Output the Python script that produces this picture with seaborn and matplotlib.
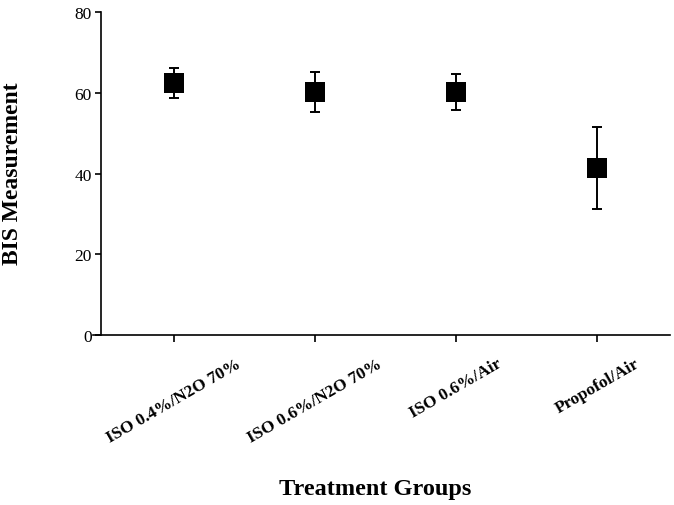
import numpy as np
import seaborn as sns
import matplotlib.pyplot as plt

# Values (mean +/- error)
groups = ["ISO 0.4%/N2O 70%", "ISO 0.6%/N2O 70%", "ISO 0.6%/Air", "Propofol/Air"]
bis_mean = [62.5, 60.2, 60.2, 41.4]
bis_err = [3.7, 5.0, 4.4, 10.1]
y_ticks = [0, 20, 40, 60, 80]

sns.set_theme(style="ticks")
plt.rcParams["font.family"] = ["Liberation Serif", "DejaVu Serif"]
plt.rcParams["text.color"] = "black"
plt.rcParams["axes.labelcolor"] = "black"

fig = plt.figure(figsize=(6.74, 5.06), dpi=100)
ax = fig.add_axes([0.1375, 0.3366, 0.8565, 0.6368])

# error bars first, squares on top
ax.errorbar(groups, bis_mean, yerr=bis_err, fmt="none", ecolor="black",
            elinewidth=1.4, capsize=3.5, capthick=1.4, zorder=2)
sns.scatterplot(x=groups, y=bis_mean, marker="s", s=200, color="black",
                linewidth=0, ax=ax, zorder=3)

ax.set_xlim(-0.574, 3.517)
ax.set_ylim(0, 80)
ax.set_yticks(y_ticks)

for side in ["top", "right"]:
    ax.spines[side].set_visible(False)
ax.spines["left"].set_position(("axes", 0.0139))
for side in ["left", "bottom"]:
    ax.spines[side].set_linewidth(1.2)
    ax.spines[side].set_color("black")

ax.tick_params(axis="y", direction="out", length=4.5, width=1.2,
               labelsize=12.5, colors="black", pad=2)
ax.tick_params(axis="x", direction="out", length=5, width=1.2,
               labelsize=12.5, colors="black", pad=10)
for lbl in ax.get_xticklabels():
    lbl.set_rotation(30)
    lbl.set_ha("center")
    lbl.set_fontweight("bold")

ax.set_ylabel("BIS Measurement", fontsize=17, fontweight="bold", color="black")
ax.yaxis.set_label_coords((13 - 92.7) / 577.3, (335.7 - 174) / 322.2)
ax.yaxis.label.set_va("center")
ax.set_xlabel("Treatment Groups", fontsize=17.5, fontweight="bold", color="black")
ax.xaxis.set_label_coords((375 - 92.7) / 577.3, (335.7 - 490) / 322.2)
ax.xaxis.label.set_va("center")

fig.savefig("out.png", dpi=100)
